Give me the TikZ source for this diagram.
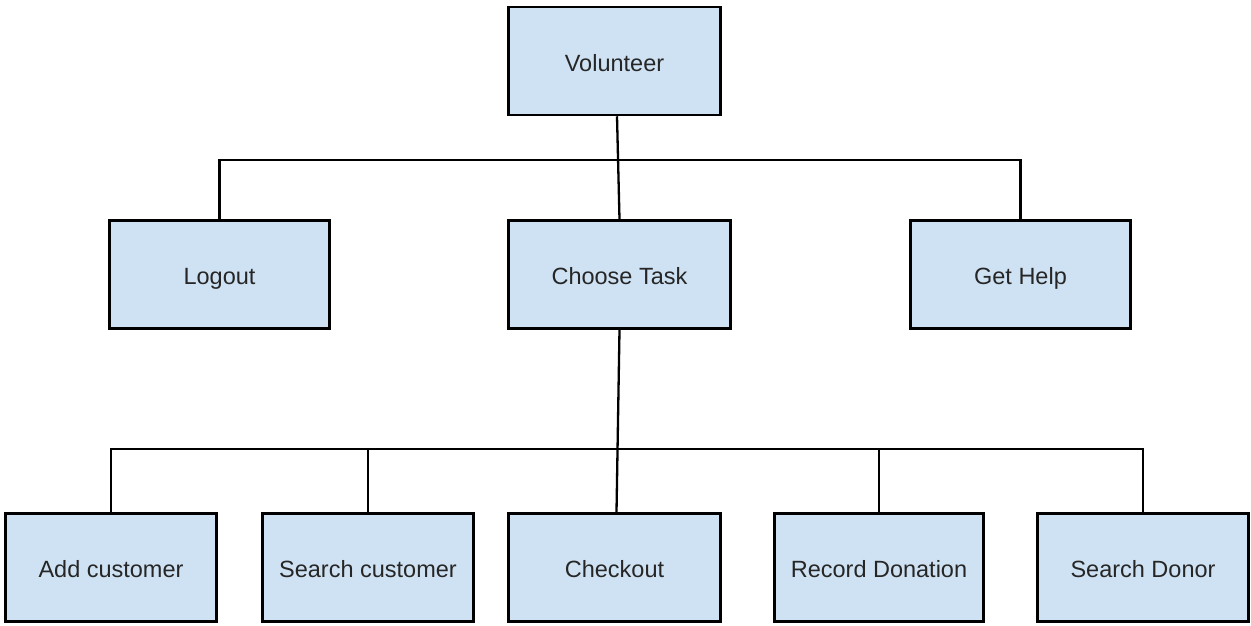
\documentclass[tikz,border=0pt]{standalone}
\usepackage{fontspec}
\setmainfont{Liberation Sans}
\usepackage{tikz}
\usetikzlibrary{calc}
\usetikzlibrary{shapes}

\definecolor{boxblue}{HTML}{CFE2F3}

\begin{document}
\begin{tikzpicture}[x=1pt, y=-1pt, line width=2.5pt,
        box_style/.style={rectangle,draw=black,fill=boxblue,inner sep=0pt,
            minimum height=108pt,text=black!85,text height=20pt,text depth=0pt,
            font=\fontsize{23.5}{28}\selectfont},
        edge_style/.style={draw=black, line width=2.3pt}]

        \useasboundingbox (0,0) rectangle (1251,625);

        \node [box_style, minimum width=212pt](vol) at (614.5,61) {Volunteer};

        \node [box_style, minimum width=220pt](logout) at (219.5,274.5) {Logout};

        \node [box_style, minimum width=222pt](task) at (619.5,274.5) {Choose Task};

        \node [box_style, minimum width=220pt](help) at (1020.5,274.5) {Get Help};

        \node [box_style, minimum width=211pt](addc) at (111,567.5) {Add customer};

        \node [box_style, minimum width=211pt](searchc) at (368,567.5) {Search customer};

        \node [box_style, minimum width=212pt](checkout) at (614.5,567.5) {Checkout};

        \node [box_style, minimum width=209pt](record) at (879,567.5) {Record Donation};

        \node [box_style, minimum width=211pt](donor) at (1143,567.5) {Search Donor};

        \coordinate (bar1) at (619,160);

        \coordinate (bar2) at (619,449);

        \draw [edge_style] ($(vol.south)+(2.5,0)$) -- (task.north);

        \draw [edge_style] (logout.north) -- (logout.north |- bar1) -- (help.north |- bar1) -- (help.north);

        \draw [edge_style] (task.south) -- ($(checkout.north)+(2,0)$);

        \draw [edge_style] (addc.north) -- (addc.north |- bar2) -- (donor.north |- bar2) -- (donor.north);

        \draw [edge_style] (searchc.north) -- (searchc.north |- bar2);

        \draw [edge_style] (record.north) -- (record.north |- bar2);

        \end{tikzpicture}
\end{document}
